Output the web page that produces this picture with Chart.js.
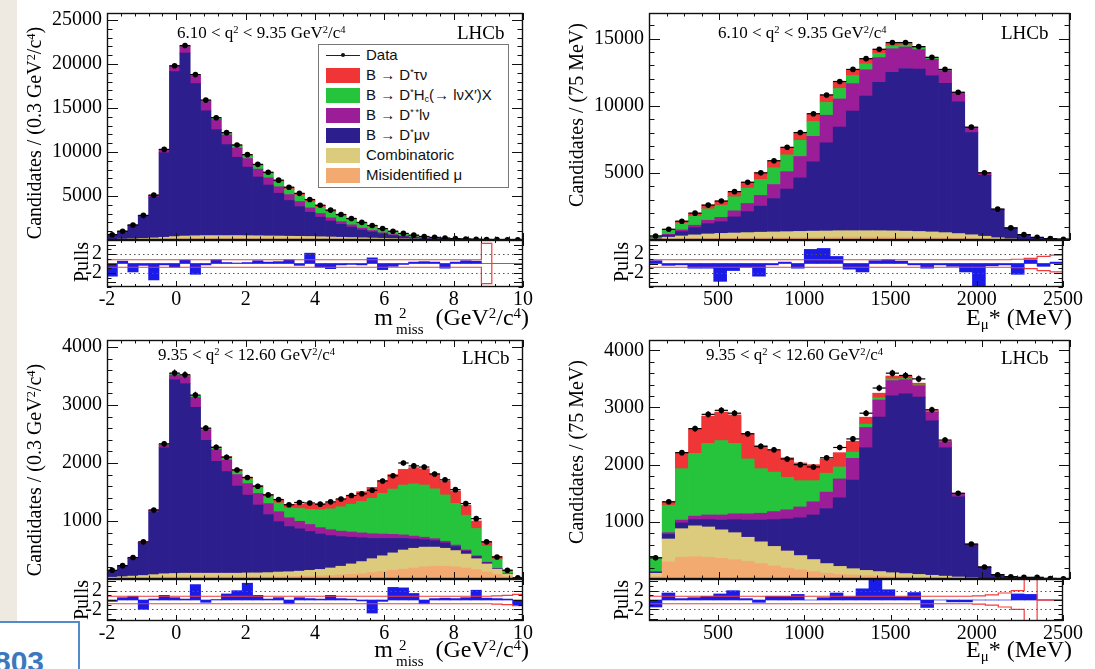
<!DOCTYPE html>
<html>
<head>
<meta charset="utf-8">
<title>Fit projections in m2miss and Emu*</title>
<script src="https://cdn.jsdelivr.net/npm/chart.js@4.4.1/dist/chart.umd.min.js"></script>
<style>
  html, body { margin: 0; padding: 0; background: #fff; }
  body { position: relative; width: 1095px; height: 669px; overflow: hidden; }
  canvas { position: absolute; }
  .strip { position: absolute; left: 0; top: 0; width: 17px; height: 669px; background: #eeeae1; }
  .t { position: absolute; white-space: nowrap; color: #000; font-family: "Liberation Serif", serif; line-height: 1; }
  .t sup { font-size: 0.62em; vertical-align: 0.5em; line-height: 0; }
  .t sub { font-size: 0.62em; vertical-align: -0.3em; line-height: 0; }
  .cap { font-size: 17px; }
  .lhcb { font-size: 19px; }
  .ytitle { font-size: 20px; transform: translate(-50%, -50%) rotate(-90deg); }
  .xtitle { font-size: 24px; text-align: right; width: 260px; }
  .ms { display: inline-block; vertical-align: -0.62em; font-size: 15px; line-height: 16px; text-align: left; margin-left: 3px; }
  .ms span { display: block; }
  .ms span:first-child { padding-left: 3px; }
  #legend { position: absolute; left: 318px; top: 44px; width: 189px; height: 142px; border: 1px solid #777;
            background: #fff; font-family: "Liberation Sans", Arial, sans-serif; font-size: 15px; color: #111; }
  .le { position: relative; height: 20px; line-height: 20px; padding-left: 47px; white-space: nowrap; }
  .le .sw { position: absolute; left: 7px; top: 3px; width: 34px; height: 15px; }
  .le .dl { position: absolute; left: 7px; top: 10px; width: 34px; height: 1px; background: #222; }
  .le .dp { position: absolute; left: 22px; top: 8px; width: 4px; height: 4px; border-radius: 2px; background: #111; }
  .le sup { font-size: 0.6em; vertical-align: 0.55em; line-height: 0; }
  .le sub { font-size: 0.6em; vertical-align: -0.25em; line-height: 0; }
  .badge { position: absolute; left: -2px; top: 621px; width: 78px; height: 52px; border: 2px solid #4f8ccb; background: #fff; }
  .badge span { position: absolute; left: -6px; top: 22px; font: bold 30px "Liberation Sans", Arial, sans-serif; color: #3b78bd; }
</style>
</head>
<body>
<div class="strip"></div>
<script>
// ---- binning ----
const mmissLo = -2, mmissBinW = 0.3, mmissBins = 40;
const emuLo = 100, emuBinW = 75, emuBins = 32;

// ---- tick labels ----
const mmissTicks = [-2, 0, 2, 4, 6, 8, 10];
const emuTicks = [500, 1000, 1500, 2000, 2500];
const tlYTicks = [5000, 10000, 15000, 20000, 25000];
const trYTicks = [5000, 10000, 15000];
const blYTicks = [1000, 2000, 3000, 4000];
const brYTicks = [1000, 2000, 3000, 4000];
const pullLabelTicks = [-2, 2];
const pullGuides = [-2, 2];

// ---- stack components (bottom to top) ----
const componentColors = ['#f2aa70', '#dccb7c', '#2c1e8c', '#9b1d98', '#25c43c', '#ef3535'];
const legendLabels = [
  'Misidentified &mu;',
  'Combinatoric',
  'B &rarr; D<sup>*</sup>&mu;&nu;',
  'B &rarr; D<sup>*&thinsp;*</sup>l&nu;',
  'B &rarr; D<sup>*</sup>H<sub>c</sub>(&rarr; l&nu;X&prime;)X',
  'B &rarr; D<sup>*</sup>&tau;&nu;'
];
const pullColor = '#1b1be8';
const bandColor = '#f03c3c';

// ---- top left: m2miss, 6.10 < q2 < 9.35 ----
const tlData  = [600,1000,1700,2800,5100,10300,19800,22100,18800,15900,13900,12200,10800,9700,8600,7700,6800,6000,5300,4600,3950,3400,2900,2450,2000,1650,1300,1000,750,550,400,300,220,160,120,90,60,40,25,15];
const tlMisId = [20,30,40,50,70,90,110,130,140,150,150,150,150,150,150,140,140,130,130,120,110,100,90,80,70,60,55,50,45,40,35,30,25,20,15,12,8,5,3,2];
const tlComb  = [60,80,100,130,170,220,280,320,340,350,350,350,350,340,330,320,310,300,290,280,260,240,220,200,180,160,140,120,100,80,60,45,35,25,20,15,10,8,5,3];
const tlDmunu = [500,850,1490,2510,4640,9600,18740,20800,17290,14190,12050,10340,8900,7790,6680,5780,4860,4070,3380,2750,2220,1810,1470,1180,890,690,500,350,235,155,100,70,50,37,28,21,14,9,5,3];
const tlDss   = [20,40,70,110,200,350,600,750,900,1050,1150,1100,1050,980,900,820,740,660,580,500,430,370,310,260,210,170,130,100,75,55,40,30,20,15,10,8,5,3,2,1];
const tlHc    = [0,0,0,0,10,20,40,60,80,100,130,170,230,300,380,460,550,620,680,700,690,650,600,540,480,420,350,280,215,160,120,90,65,45,35,25,17,11,7,4];
const tlTau   = [0,0,0,0,10,20,30,40,50,60,70,90,120,140,160,180,200,220,240,250,240,230,210,190,170,150,125,100,80,60,45,35,25,18,12,9,6,4,3,2];
const tlPulls = [-2.7,0.5,-1.8,-0.4,-3.5,-0.3,-0.8,0.7,-2.3,-0.3,0.8,0.2,0.1,0.2,0.6,0.3,0.4,0.8,-0.4,2.2,-0.8,-1.1,-0.3,-0.2,-0.3,1.2,-1.3,-0.6,-0.2,0.3,0.4,0.3,-1.0,0.3,0.6,0.5,0,0,0,0];
const tlBand  = [0.8,0.8,0.8,0.8,0.8,0.8,0.8,0.8,0.8,0.8,0.8,0.8,0.8,0.8,0.8,0.8,0.8,0.8,0.8,0.8,0.8,0.8,0.8,0.8,0.8,0.8,0.8,0.8,0.8,0.8,0.8,0.8,0.8,0.8,0.8,0.8,4.3,0,0,0];

// ---- top right: Emu*, 6.10 < q2 < 9.35 ----
const trData  = [300,800,1400,2000,2600,2900,3600,4300,5000,5900,6900,8000,9400,10800,11800,12700,13500,14200,14700,14700,14400,13600,12700,11000,8400,5000,2300,900,400,200,100,60];
const trMisId = [30,60,80,100,120,130,140,150,160,170,180,190,200,200,210,210,210,210,210,200,190,180,160,140,110,80,50,30,15,10,5,3];
const trComb  = [60,150,220,280,330,360,380,400,420,430,440,450,460,470,480,480,480,480,470,460,440,420,390,340,280,200,120,60,30,15,10,5];
const trDmunu = [50,150,330,540,760,870,1200,1570,1940,2480,3170,3980,5160,6570,7710,8900,10030,11040,11810,12110,12090,11650,11105,9815,7600,4534,2062,790,345,170,83,51];
const trDss   = [20,60,120,180,260,330,450,600,800,1050,1300,1600,1900,2050,2100,2050,1950,1850,1750,1600,1450,1200,950,650,380,170,60,20,10,5,2,1];
const trHc    = [120,300,500,680,850,900,1050,1150,1200,1250,1250,1200,1100,950,780,600,450,320,230,160,110,70,45,25,15,8,4,0,0,0,0,0];
const trTau   = [20,80,150,220,280,310,380,430,480,520,560,580,580,560,520,460,380,300,230,170,120,80,50,30,15,8,4,0,0,0,0,0];
const trPulls = [0.6,-0.4,-0.3,-1.0,-1.0,-3.8,-1.5,-0.8,-2.7,-0.3,0.3,-1.0,3.0,3.2,1.5,-1.2,-1.8,0.6,0.8,0.5,-0.3,-1.0,-0.3,-0.6,-1.8,-5.2,-0.5,-0.3,-2.3,0.8,-0.6,0.3];
const trBand  = [0.8,0.8,0.8,0.8,0.8,0.8,0.8,0.8,0.8,0.8,0.8,0.8,0.8,0.8,0.8,0.8,0.8,0.8,0.8,0.8,0.8,0.8,0.8,0.8,0.8,0.8,0.8,0.8,0.9,1.1,1.5,1.8];

// ---- bottom left: m2miss, 9.35 < q2 < 12.60 ----
const blData  = [150,230,370,640,1190,2330,3550,3520,3170,2600,2270,2100,1880,1750,1600,1450,1370,1280,1320,1310,1290,1330,1380,1440,1470,1530,1690,1780,2000,1950,1930,1810,1710,1540,1300,1040,640,380,150,20];
const blMisId = [10,15,20,25,30,35,35,35,35,35,35,35,35,35,35,35,40,40,45,50,55,60,70,80,90,110,130,150,170,190,210,220,220,210,190,160,120,80,40,5];
const blComb  = [20,25,30,35,45,55,60,65,65,65,65,65,65,70,70,75,80,85,90,100,110,130,150,180,210,240,270,300,330,340,340,330,310,280,240,190,140,90,40,8];
const blDmunu = [110,180,300,555,1080,2170,3340,3270,2860,2290,1930,1750,1500,1340,1170,1000,870,780,730,670,610,560,510,460,410,350,300,250,200,160,130,110,90,70,50,35,20,10,5,2];
const blDss   = [5,10,15,20,30,50,80,120,170,180,200,200,200,200,200,190,170,150,130,120,110,100,95,90,85,80,75,70,60,50,40,35,30,25,20,15,10,5,0,0];
const blHc    = [0,0,0,0,0,10,20,20,20,20,30,40,60,80,100,120,150,170,220,260,310,360,420,480,540,610,700,780,860,900,900,860,800,720,600,470,280,160,55,5];
const blTau   = [0,0,0,0,0,5,10,10,10,10,15,20,25,30,35,40,50,60,80,90,100,110,130,150,170,190,220,250,270,280,280,260,240,210,170,130,80,45,15,2];
const blPulls = [-0.3,0.5,0.8,-2.0,0.2,1.0,0.5,0.2,3.3,-0.5,0.1,1.3,2.0,3.6,1.0,0.2,0.5,-0.8,0.5,0.3,0.2,1.0,0.3,0.2,-0.2,-2.8,-0.3,2.7,2.6,1.4,-0.8,0.3,0.4,0.3,0.5,2.1,0.4,0.3,0.2,-1.0];
const blBand  = [0.8,0.8,0.8,0.8,0.8,0.8,0.8,0.8,0.8,0.8,0.8,0.8,0.8,0.8,0.8,0.8,0.8,0.8,0.8,0.8,0.8,0.8,0.8,0.8,0.8,0.8,0.8,0.8,0.8,0.8,0.8,0.8,0.8,0.8,0.8,0.8,0.8,0.9,1.0,1.2];

// ---- bottom right: Emu*, 9.35 < q2 < 12.60 ----
const brData  = [370,1350,2210,2630,2880,2950,2900,2540,2320,2260,2100,2000,1960,2120,2300,2450,2900,3340,3600,3560,3500,2960,2430,1500,610,210,75,40,30,30,10,5];
const brMisId = [40,300,380,390,380,360,340,310,270,230,190,160,130,100,80,70,60,50,40,35,30,25,20,15,10,5,2,1,1,1,0,0];
const brComb  = [60,400,500,540,530,500,470,420,380,340,300,250,210,170,140,110,90,80,70,60,50,40,30,20,10,5,3,2,1,1,1,0];
const brDmunu = [20,80,100,110,130,170,230,300,380,470,560,660,780,960,1200,1550,2150,2700,3100,3150,3100,2700,2250,1400,570,195,68,35,22,15,8,4];
const brDss   = [10,30,50,60,80,90,100,110,120,140,160,190,230,290,330,380,350,300,260,240,200,150,100,55,20,5,2,1,1,1,0,0];
const brHc    = [240,480,900,1100,1250,1300,1230,960,780,690,570,460,370,330,210,110,60,40,30,20,15,10,5,0,0,0,0,0,0,0,0,0];
const brTau   = [0,60,280,430,480,500,500,440,400,380,340,310,280,250,250,190,120,80,50,40,30,20,10,5,0,0,0,0,0,0,0,0];
const brPulls = [-1.5,1.5,0.3,0.5,0.8,1.3,2.0,0.3,-0.5,0.8,0.8,1.2,0.0,0.5,1.5,0.7,2.4,4.5,2.2,0.7,1.6,-1.6,0.0,-0.4,-0.4,0.0,0.0,0.0,1.3,1.2,0.0,0.0];
const brBand  = [0.8,0.8,0.8,0.8,0.8,0.8,0.8,0.8,0.8,0.8,0.8,0.8,0.8,0.8,0.8,0.8,0.8,0.8,0.8,0.8,0.8,0.8,0.8,0.8,0.8,0.9,1.1,1.5,2.0,10,0,0];

// ---- layout ----
const AXIS_W = 70, PAD = 22, PAD_R = 14, X_AXIS_H = 30;
const tickFont = { family: 'Liberation Serif', size: 20 };

const panels = [
  { L: 107, R: 523, top: 13, mid: 240, bot: 287, xMin: -2, xMax: 10, xTicks: mmissTicks, xStep: 2, xMinor: 0.4,
    lo: mmissLo, w: mmissBinW, n: mmissBins, yMax: 25800, yTicks: tlYTicks, yStep: 5000, yMinor: 1000, pMin: -5, pMax: 5,
    data: tlData, parts: [tlMisId, tlComb, tlDmunu, tlDss, tlHc, tlTau], pulls: tlPulls, band: tlBand },
  { L: 649, R: 1070, top: 13, mid: 240, bot: 287, xMin: 100, xMax: 2500, xTicks: emuTicks, xStep: 500, xMinor: 100,
    lo: emuLo, w: emuBinW, n: emuBins, yMax: 16900, yTicks: trYTicks, yStep: 5000, yMinor: 1000, pMin: -5, pMax: 5,
    data: trData, parts: [trMisId, trComb, trDmunu, trDss, trHc, trTau], pulls: trPulls, band: trBand },
  { L: 107, R: 523, top: 340, mid: 579, bot: 621, xMin: -2, xMax: 10, xTicks: mmissTicks, xStep: 2, xMinor: 0.4,
    lo: mmissLo, w: mmissBinW, n: mmissBins, yMax: 4120, yTicks: blYTicks, yStep: 1000, yMinor: 200, pMin: -4.5, pMax: 4.5,
    data: blData, parts: [blMisId, blComb, blDmunu, blDss, blHc, blTau], pulls: blPulls, band: blBand },
  { L: 649, R: 1070, top: 340, mid: 579, bot: 621, xMin: 100, xMax: 2500, xTicks: emuTicks, xStep: 500, xMinor: 100,
    lo: emuLo, w: emuBinW, n: emuBins, yMax: 4180, yTicks: brYTicks, yStep: 1000, yMinor: 200, pMin: -4.5, pMax: 4.5,
    data: brData, parts: [brMisId, brComb, brDmunu, brDss, brHc, brTau], pulls: brPulls, band: brBand }
];

// ROOT-like frame with inward ticks on all four sides
const rootFrame = {
  id: 'rootFrame',
  afterDatasetsDraw(chart, args, o) {
    const { ctx, chartArea: a, scales } = chart;
    ctx.save();
    if (o.guides) {
      ctx.strokeStyle = '#555'; ctx.lineWidth = 1; ctx.setLineDash([1.5, 3]);
      o.guides.forEach(v => {
        const py = Math.round(scales.y.getPixelForValue(v)) + 0.5;
        ctx.beginPath(); ctx.moveTo(a.left, py); ctx.lineTo(a.right, py); ctx.stroke();
      });
      ctx.setLineDash([]);
    }
    ctx.strokeStyle = '#111'; ctx.lineWidth = 1;
    const marks = (scale, major, minor, len, horiz) => {
      const n0 = Math.ceil(scale.min / minor - 1e-6), n1 = Math.floor(scale.max / minor + 1e-6);
      for (let k = n0; k <= n1; k++) {
        const v = k * minor;
        const isMajor = Math.abs(v / major - Math.round(v / major)) < 1e-6;
        const l = isMajor ? len : len / 2;
        const p = Math.round(scale.getPixelForValue(v)) + 0.5;
        ctx.beginPath();
        if (horiz) {
          ctx.moveTo(p, a.bottom); ctx.lineTo(p, a.bottom - l);
          ctx.moveTo(p, a.top); ctx.lineTo(p, a.top + l);
        } else {
          ctx.moveTo(a.left, p); ctx.lineTo(a.left + l, p);
          ctx.moveTo(a.right, p); ctx.lineTo(a.right - l, p);
        }
        ctx.stroke();
      }
    };
    marks(scales.x, o.xMajor, o.xMinor, o.xLen, true);
    marks(scales.y, o.yMajor, o.yMinor, o.yLen, false);
    ctx.lineWidth = 1.4;
    ctx.strokeRect(a.left + 0.5, a.top + 0.5, a.width - 1, a.height - 1);
    ctx.restore();
  }
};

function addCanvas(left, top, w, h) {
  const c = document.createElement('canvas');
  c.width = w; c.height = h;
  c.style.left = left + 'px'; c.style.top = top + 'px';
  c.style.width = w + 'px'; c.style.height = h + 'px';
  document.body.appendChild(c);
  return c;
}

function binCenters(lo, w, n) { return Array.from({ length: n }, (_, i) => lo + w * (i + 0.5)); }
function binEdges(lo, w, n) { return Array.from({ length: n + 1 }, (_, i) => lo + w * i); }

function makePanel(p) {
  const centers = binCenters(p.lo, p.w, p.n);
  const edges = binEdges(p.lo, p.w, p.n);
  const width = p.R - p.L + AXIS_W + PAD_R;
  const halfBin = (p.R - p.L) / p.n / 2;

  // main stacked histogram
  const mainCanvas = addCanvas(p.L - AXIS_W, p.top - PAD, width, p.mid - p.top + 2 * PAD);
  const bars = p.parts.map((vals, k) => ({
    type: 'bar',
    data: centers.map((x, i) => ({ x, y: vals[i] })),
    backgroundColor: componentColors[k],
    stack: 'model', barPercentage: 1, categoryPercentage: 1, borderWidth: 0, order: 5
  }));
  const pts = centers.map((x, i) => ({ x, y: p.data[i] }));
  new Chart(mainCanvas, {
    type: 'bar',
    data: {
      datasets: [
        { type: 'line', data: pts, showLine: false, pointRadius: 2.8, pointBackgroundColor: '#000',
          pointBorderWidth: 0, order: -3 },
        { type: 'line', data: pts, showLine: false, pointStyle: 'line', pointRadius: halfBin,
          pointBorderColor: '#000', pointBorderWidth: 1.2, order: -2 },
        { type: 'line', data: pts, showLine: false, pointStyle: 'line', pointRotation: 90,
          pointBorderColor: '#000', pointBorderWidth: 1.2, order: -2,
          pointRadius: c => {
            const s = c.chart.scales.y;
            const v = c.raw ? c.raw.y : 0;
            return Math.max(0, s.getPixelForValue(v) - s.getPixelForValue(v + Math.sqrt(v)));
          } },
        ...bars
      ]
    },
    options: {
      responsive: false, animation: false, events: [],
      layout: { padding: { top: PAD, right: PAD_R, left: 0, bottom: PAD } },
      plugins: { legend: { display: false }, tooltip: { enabled: false },
        rootFrame: { xMajor: p.xStep, xMinor: p.xMinor, xLen: 7, yMajor: p.yStep, yMinor: p.yMinor, yLen: 11 } },
      scales: {
        x: { type: 'linear', min: p.xMin, max: p.xMax, offset: false, display: false },
        y: { type: 'linear', min: 0, max: p.yMax,
             afterFit: s => { s.width = AXIS_W; },
             afterBuildTicks: s => { s.ticks = p.yTicks.map(v => ({ value: v })); },
             grid: { display: false, drawTicks: false }, border: { display: false },
             ticks: { padding: 5, color: '#000', font: tickFont, callback: v => String(v) } }
      }
    },
    plugins: [rootFrame]
  });

  // pulls panel
  const pullCanvas = addCanvas(p.L - AXIS_W, p.mid - PAD, width, p.bot - p.mid + PAD + X_AXIS_H);
  const bandHi = edges.map((x, i) => ({ x, y: p.band[Math.min(i, p.n - 1)] }));
  const bandLo = edges.map((x, i) => ({ x, y: -p.band[Math.min(i, p.n - 1)] }));
  new Chart(pullCanvas, {
    type: 'bar',
    data: {
      datasets: [
        { type: 'line', data: bandHi, stepped: true, borderColor: bandColor, borderWidth: 1.2,
          pointRadius: 0, fill: false, order: -2 },
        { type: 'line', data: bandLo, stepped: true, borderColor: bandColor, borderWidth: 1.2,
          pointRadius: 0, fill: false, order: -2 },
        { type: 'bar', data: centers.map((x, i) => ({ x, y: p.pulls[i] })), backgroundColor: pullColor,
          barPercentage: 1, categoryPercentage: 1, borderWidth: 0, order: 5 }
      ]
    },
    options: {
      responsive: false, animation: false, events: [],
      layout: { padding: { top: PAD, right: PAD_R, left: 0, bottom: 0 } },
      plugins: { legend: { display: false }, tooltip: { enabled: false },
        rootFrame: { guides: pullGuides, xMajor: p.xStep, xMinor: p.xMinor, xLen: 6, yMajor: 2, yMinor: 1, yLen: 9 } },
      scales: {
        x: { type: 'linear', min: p.xMin, max: p.xMax, offset: false,
             afterFit: s => { s.height = X_AXIS_H; },
             afterBuildTicks: s => { s.ticks = p.xTicks.map(v => ({ value: v })); },
             grid: { display: false, drawTicks: false }, border: { display: false },
             ticks: { padding: 1, maxRotation: 0, autoSkip: false,
                      color: '#000', font: tickFont, callback: v => String(v) } },
        y: { type: 'linear', min: p.pMin, max: p.pMax,
             afterFit: s => { s.width = AXIS_W; },
             afterBuildTicks: s => { s.ticks = pullLabelTicks.map(v => ({ value: v })); },
             grid: { display: false, drawTicks: false }, border: { display: false },
             ticks: { padding: 5, color: '#000', font: tickFont, callback: v => String(v) } }
      }
    },
    plugins: [rootFrame]
  });
}

panels.forEach(makePanel);

// ---- text overlays ----
function addText(cls, html, style) {
  const d = document.createElement('div');
  d.className = 't ' + cls;
  d.innerHTML = html;
  Object.assign(d.style, style);
  document.body.appendChild(d);
  return d;
}
const capLow = '6.10 &lt; q<sup>2</sup> &lt; 9.35 GeV<sup>2</sup>/c<sup>4</sup>';
const capHigh = '9.35 &lt; q<sup>2</sup> &lt; 12.60 GeV<sup>2</sup>/c<sup>4</sup>';
const yTitleM = 'Candidates / (0.3 GeV<sup>2</sup>/c<sup>4</sup>)';
const yTitleE = 'Candidates / (75 MeV)';
const xTitleM = 'm<span class="ms"><span>2</span><span>miss</span></span>&nbsp;&nbsp;(GeV<sup>2</sup>/c<sup>4</sup>)';
const xTitleE = 'E<sub>&mu;</sub>* (MeV)';

addText('cap', capLow, { left: '177px', top: '24px' });
addText('lhcb', 'LHCb', { left: '457px', top: '23px' });
addText('cap', capLow, { left: '718px', top: '24px' });
addText('lhcb', 'LHCb', { left: '1001px', top: '23px' });
addText('cap', capHigh, { left: '158px', top: '346px' });
addText('lhcb', 'LHCb', { left: '462px', top: '348px' });
addText('cap', capHigh, { left: '706px', top: '346px' });
addText('lhcb', 'LHCb', { left: '1001px', top: '348px' });

addText('ytitle', yTitleM, { left: '34px', top: '133px' });
addText('ytitle', 'Pulls', { left: '81px', top: '262px' });
addText('ytitle', yTitleE, { left: '576px', top: '115px' });
addText('ytitle', 'Pulls', { left: '621px', top: '262px' });
addText('ytitle', yTitleM, { left: '34px', top: '470px' });
addText('ytitle', 'Pulls', { left: '81px', top: '600px' });
addText('ytitle', yTitleE, { left: '576px', top: '452px' });
addText('ytitle', 'Pulls', { left: '621px', top: '600px' });

addText('xtitle', xTitleM, { left: '269px', top: '305px' });
addText('xtitle', xTitleE, { left: '812px', top: '305px' });
addText('xtitle', xTitleM, { left: '269px', top: '637px' });
addText('xtitle', xTitleE, { left: '812px', top: '637px' });

// ---- legend (top-left panel) ----
const legend = document.createElement('div');
legend.id = 'legend';
let lh = '<div class="le"><span class="dl"></span><span class="dp"></span>Data</div>';
for (let k = componentColors.length - 1; k >= 0; k--) {
  lh += '<div class="le"><span class="sw" style="background:' + componentColors[k] + '"></span>' + legendLabels[k] + '</div>';
}
legend.innerHTML = lh;
document.body.appendChild(legend);

// ---- slide badge ----
const badge = document.createElement('div');
badge.className = 'badge';
badge.innerHTML = '<span>803</span>';
document.body.appendChild(badge);
</script>
</body>
</html>
